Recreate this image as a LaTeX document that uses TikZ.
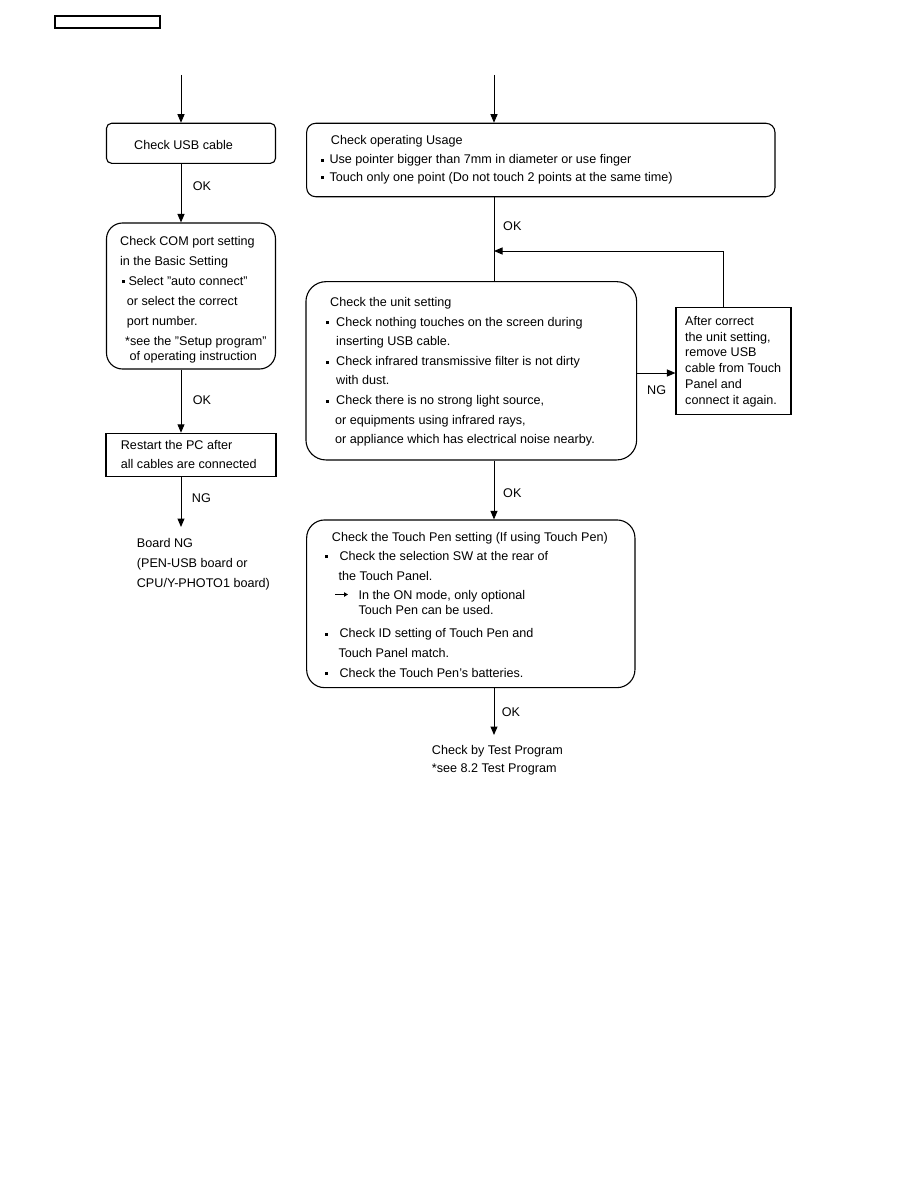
\documentclass[tikz,border=0pt]{standalone}
\usepackage{fontspec}
\setmainfont{Liberation Sans}
\usetikzlibrary{arrows.meta}
\newcommand\bul[1]{\makebox[#1pt][l]{\raisebox{2pt}{\rule{3pt}{3pt}}}}
\newcommand\txtline[4]{\node[txt] (#1) at (#2,#3) {#4};}
\begin{document}
\begin{tikzpicture}[x=1pt,y=-1pt,
  box/.style={draw,line width=1.1pt,inner sep=0pt,rectangle},
  txt/.style={anchor=base west,inner sep=0pt,font=\fontsize{12.6}{15}\selectfont},
  lbl/.style={anchor=west,inner sep=0pt,font=\fontsize{12.6}{15}\selectfont},
  arr/.style={line width=1pt,-{Triangle[length=8.5pt,width=7pt]}},
  ln/.style={line width=1pt}]
\useasboundingbox (0,0) rectangle (918,1188);
\coordinate (L) at (181,0);
\coordinate (R) at (494,0);
% header box
\node[box,minimum width=105pt,minimum height=12pt] (hdr) at (107.5,22) {};
% left column boxes
\node[box,rounded corners=5pt,minimum width=169pt,minimum height=40pt] (usb) at (191,143.3) {};
\node[box,rounded corners=16pt,minimum width=169pt,minimum height=146pt] (com) at (191,296) {};
\node[box,minimum width=170pt,minimum height=43.4pt] (restart) at (191,455) {};
% right column boxes
\node[box,rounded corners=9pt,minimum width=468.3pt,minimum height=73.4pt] (op) at (540.8,160) {};
\node[box,rounded corners=20pt,minimum width=330.7pt,minimum height=178.3pt] (unit) at (471.3,370.8) {};
\node[box,minimum width=115pt,minimum height=107pt] (after) at (733.5,361.3) {};
\node[box,rounded corners=18pt,minimum width=328.3pt,minimum height=167.7pt] (pen) at (470.8,603.8) {};
% texts left
\txtline{usbt}{134}{149.5}{Check USB cable}
\txtline{com1}{120}{245.2}{Check COM port setting}
\txtline{com2}{120}{265.2}{in the Basic Setting}
\txtline{com3}{121.7}{285.2}{\bul{6.6}Select "auto connect"}
\txtline{com4}{126.7}{305.2}{or select the correct}
\txtline{com5}{126.7}{325.2}{port number.}
\txtline{com6}{125}{345.2}{*see the "Setup program"}
\txtline{com7}{129.3}{360.2}{of operating instruction}
\txtline{rs1}{120.7}{449.5}{Restart the PC after}
\txtline{rs2}{120.7}{468.8}{all cables are connected}
\txtline{bd1}{136.7}{547.2}{Board NG}
\txtline{bd2}{136.7}{567.2}{(PEN-USB board or}
\txtline{bd3}{136.7}{587.2}{CPU/Y-PHOTO1 board)}
% texts right
\txtline{op1}{330.7}{144.5}{Check operating Usage}
\txtline{op2}{320.7}{163.8}{\bul{8.6}Use pointer bigger than 7mm in diameter or use finger}
\txtline{op3}{320.7}{181.2}{\bul{8.6}Touch only one point (Do not touch 2 points at the same time)}
\txtline{un1}{330}{306.2}{Check the unit setting}
\txtline{un2}{326}{326.2}{\bul{10}Check nothing touches on the screen during}
\txtline{un3}{336}{345.5}{inserting USB cable.}
\txtline{un4}{326}{365.5}{\bul{10}Check infrared transmissive filter is not dirty}
\txtline{un5}{336}{384.5}{with dust.}
\txtline{un6}{326}{404.5}{\bul{10}Check there is no strong light source,}
\txtline{un7}{335}{424.5}{or equipments using infrared rays,}
\txtline{un8}{335}{443.8}{or appliance which has electrical noise nearby.}
\txtline{af1}{685}{325.5}{After correct}
\txtline{af2}{685}{341.3}{the unit setting,}
\txtline{af3}{685}{356.5}{remove USB}
\txtline{af4}{685}{372.8}{cable from Touch}
\txtline{af5}{685}{388.5}{Panel and}
\txtline{af6}{685}{404.5}{connect it again.}
\txtline{pn1}{331.7}{541.2}{Check the Touch Pen setting (If using Touch Pen)}
\txtline{pn2}{325}{560.2}{\bul{14.3}Check the selection SW at the rear of}
\txtline{pn3}{338.3}{580.5}{the Touch Panel.}
\txtline{pn4}{358.3}{599.5}{In the ON mode, only optional}
\txtline{pn5}{358.3}{614.5}{Touch Pen can be used.}
\txtline{pn6}{325}{637.8}{\bul{14.3}Check ID setting of Touch Pen and}
\txtline{pn7}{338.3}{657.2}{Touch Panel match.}
\txtline{pn8}{325}{677.2}{\bul{14.3}Check the Touch Pen's batteries.}
\txtline{tp1}{431.7}{754.5}{Check by Test Program}
\txtline{tp2}{431.7}{772.8}{*see 8.2 Test Program}
% small arrow symbol in the pen box
\draw[line width=1.2pt,-{Triangle[length=4pt,width=4.5pt]}] (335,594.5) -- (348,594.5);
% connectors left
\coordinate (startL) at (181,75);
\draw[arr] (startL) -- (usb.north -| L);
\draw[arr] (usb.south -| L) -- (com.north -| L);
\node[lbl] (ok1) at (192.7,186) {OK};
\draw[arr] (com.south -| L) -- (restart.north -| L);
\node[lbl] (ok2) at (192.7,400) {OK};
\coordinate (endL) at (181,527);
\draw[arr] (restart.south -| L) -- (endL);
\node[lbl] (ng1) at (191.7,497.7) {NG};
% connectors right
\coordinate (startR) at (494,75);
\draw[arr] (startR) -- (op.north -| R);
\draw[ln] (op.south -| R) -- (unit.north -| R);
\node[lbl] (ok3) at (503,226) {OK};
\coordinate (lp) at (723,251);
\draw[arr] (after.north -| lp) -- (lp) -- (lp -| R);
\coordinate (ngy) at (0,373);
\draw[arr] (unit.east |- ngy) -- (after.west |- ngy);
\node[lbl] (ng2) at (647,390) {NG};
\draw[arr] (unit.south -| R) -- (pen.north -| R);
\node[lbl] (ok4) at (503,493) {OK};
\coordinate (endR) at (494,735);
\draw[arr] (pen.south -| R) -- (endR);
\node[lbl] (ok5) at (501.7,711.7) {OK};
\end{tikzpicture}
\end{document}
